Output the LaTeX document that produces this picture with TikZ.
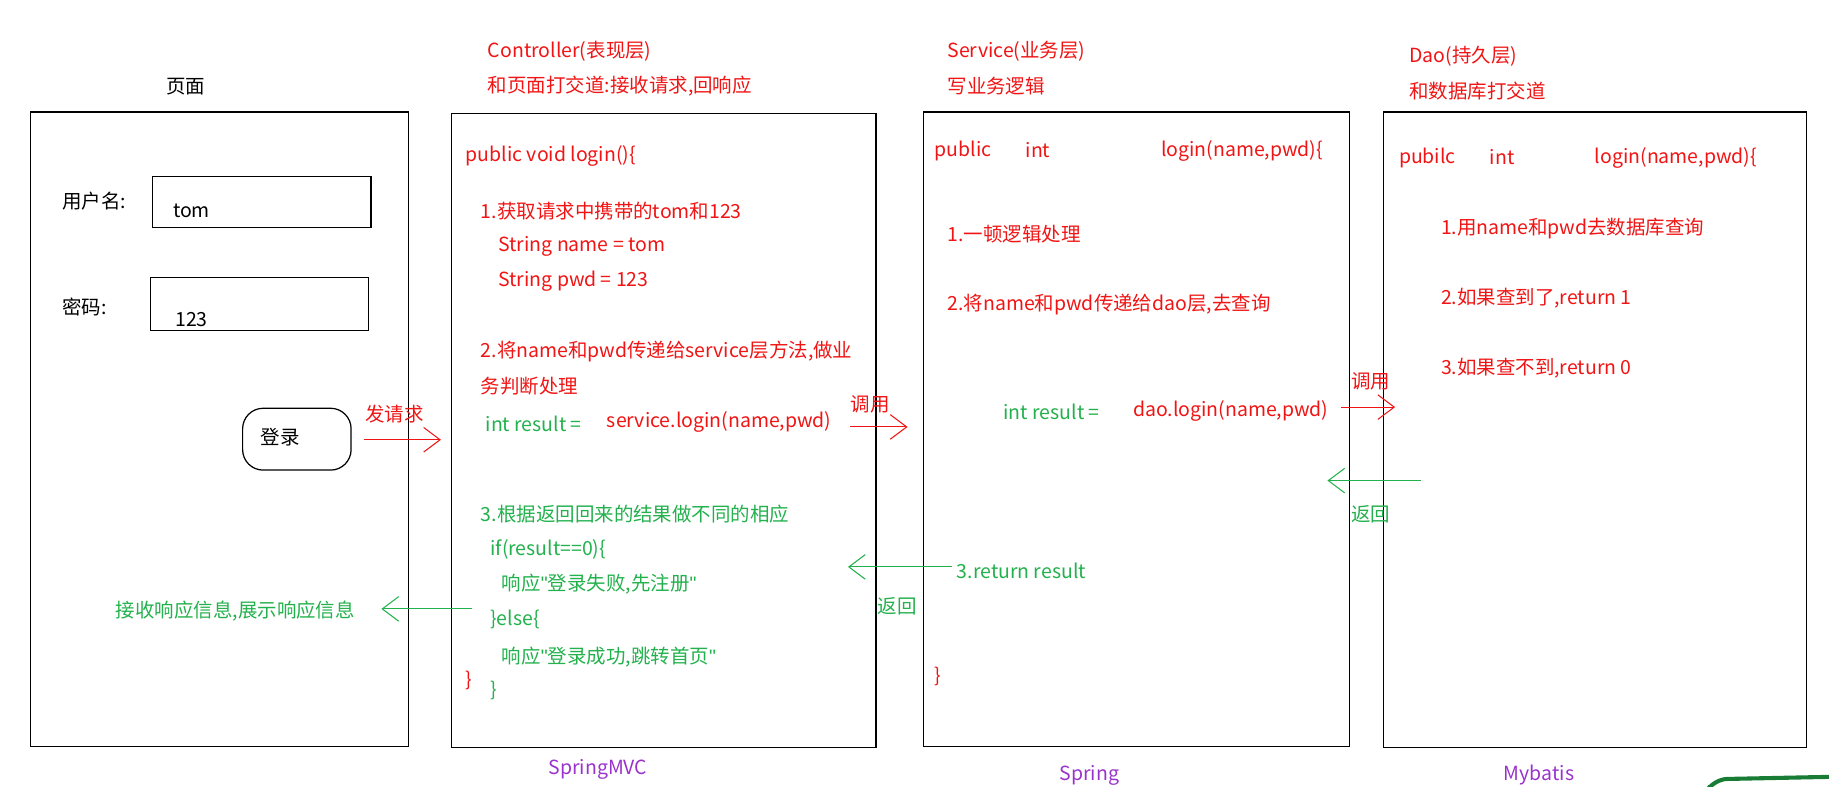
\documentclass[tikz,border=0pt]{standalone}
\usepackage{fontspec}
\setmainfont{Noto Sans CJK SC}
\newfontfamily\latq{Liberation Sans}
\usetikzlibrary{arrows.meta}
\definecolor{rd}{RGB}{240,20,20}
\definecolor{gn}{RGB}{34,177,76}
\definecolor{pu}{RGB}{153,51,204}
\newcommand{\dq}{{\latq\symbol{34}}}
\begin{document}
\begin{tikzpicture}[x=0.02cm,y=-0.02cm,
  box/.style={draw,line width=0.6pt},
  t/.style={anchor=west,inner sep=0,font=\fontsize{9.5}{11}\selectfont},
  r/.style={t,text=rd}, g/.style={t,text=gn}, b/.style={t,text=black}, p/.style={t,text=pu},
  ra/.style={draw=rd,-{Straight Barb[length=8pt,width=12pt]},line width=0.5pt},
  ga/.style={draw=gn,-{Straight Barb[length=8pt,width=12pt]},line width=0.5pt}]
\useasboundingbox (0,0) rectangle (1568,674);
\draw[box] (26,96) rectangle (350,640);
\draw[box] (387,97) rectangle (751,641);
\draw[box] (792,96) rectangle (1157,640);
\draw[box] (1186,96) rectangle (1549,641);
\draw[box] (131,151) rectangle (318,195);
\draw[box] (129,238) rectangle (316,283);
\draw[box,rounded corners=10pt] (208,350) rectangle (301,403);
% page
\node[b] (pg) at (142,74) {页面};
\node[b] (u) at (53,172) {用户名:};
\node[b] (tom) at (148,181) {tom};
\node[b] (pw) at (53,263) {密码:};
\node[b] (p1) at (150,274) {123};
\node[b] (lg) at (223,375) {登录};
\node[g] (recv) at (99,524) {接收响应信息,展示响应信息};
% controller
\node[r] (c1) at (418,44) {Controller(表现层)};
\node[r] (c2) at (418,74) {和页面打交道:接收请求,回响应};
\node[r] at (399,134) {public void login()\{};
\node[r] at (412,181) {1.获取请求中携带的tom和123};
\node[r] at (427,211) {String name = tom};
\node[r] at (427,241) {String pwd = 123};
\node[r] at (412,301) {2.将name和pwd传递给service层方法,做业};
\node[r] at (412,331) {务判断处理};
\node[g] at (416,363) {int result =};
\node[r] at (520,362) {service.login(name,pwd)};
\node[g] at (412,441) {3.根据返回回来的结果做不同的相应};
\node[g] at (420,471) {if(result==0)\{};
\node[g] at (430,501) {响应\dq 登录失败,先注册\dq};
\node[g] at (420,531) {\}else\{};
\node[g] at (430,563) {响应\dq 登录成功,跳转首页\dq};
\node[r] at (399,583) {\}};
\node[g] at (420,592) {\}};
\node[p] at (470,660) {SpringMVC};
% service
\node[r] at (812,44) {Service(业务层)};
\node[r] at (812,74) {写业务逻辑};
\node[r] at (801,129) {public};
\node[r] at (879,129) {int};
\node[r] at (995,129) {login(name,pwd)\{};
\node[r] at (812,201) {1.一顿逻辑处理};
\node[r] at (812,261) {2.将name和pwd传递给dao层,去查询};
\node[g] at (860,353) {int result =};
\node[r] at (971,352) {dao.login(name,pwd)};
\node[g] at (820,489) {3.return result};
\node[r] at (801,580) {\}};
\node[p] at (908,665) {Spring};
% dao
\node[r] at (1208,48) {Dao(持久层)};
\node[r] at (1208,78) {和数据库打交道};
\node[r] at (1199,135) {pubilc};
\node[r] at (1277,135) {int};
\node[r] at (1367,135) {login(name,pwd)\{};
\node[r] at (1235,196) {1.用name和pwd去数据库查询};
\node[r] at (1235,256) {2.如果查到了,return 1};
\node[r] at (1235,316) {3.如果查不到,return 0};
\node[p] at (1289,664) {Mybatis};
% arrows
\coordinate (a1) at (312,377); \coordinate (a2) at (378,377);
\draw[ra] (a1) -- (a2);
\node[r] at (313,355) {发请求};
\coordinate (b1) at (729,366); \coordinate (b2) at (778,366);
\draw[ra] (b1) -- (b2);
\node[r] at (729,347) {调用};
\coordinate (d1) at (1150,349); \coordinate (d2) at (1196,349);
\draw[ra] (d1) -- (d2);
\node[r] at (1158,327) {调用};
\coordinate (e1) at (1218,412); \coordinate (e2) at (1138,412);
\draw[ga] (e1) -- (e2);
\node[g] at (1158,441) {返回};
\coordinate (f1) at (816,486); \coordinate (f2) at (727,486);
\draw[ga] (f1) -- (f2);
\node[g] at (752,520) {返回};
\coordinate (h1) at (405,522); \coordinate (h2) at (327,522);
\draw[ga] (h1) -- (h2);
\draw[gn!70!black,line width=2pt,rounded corners=6pt] (1466,674) -- (1470,668) -- (1568,666);
\end{tikzpicture}
\end{document}
